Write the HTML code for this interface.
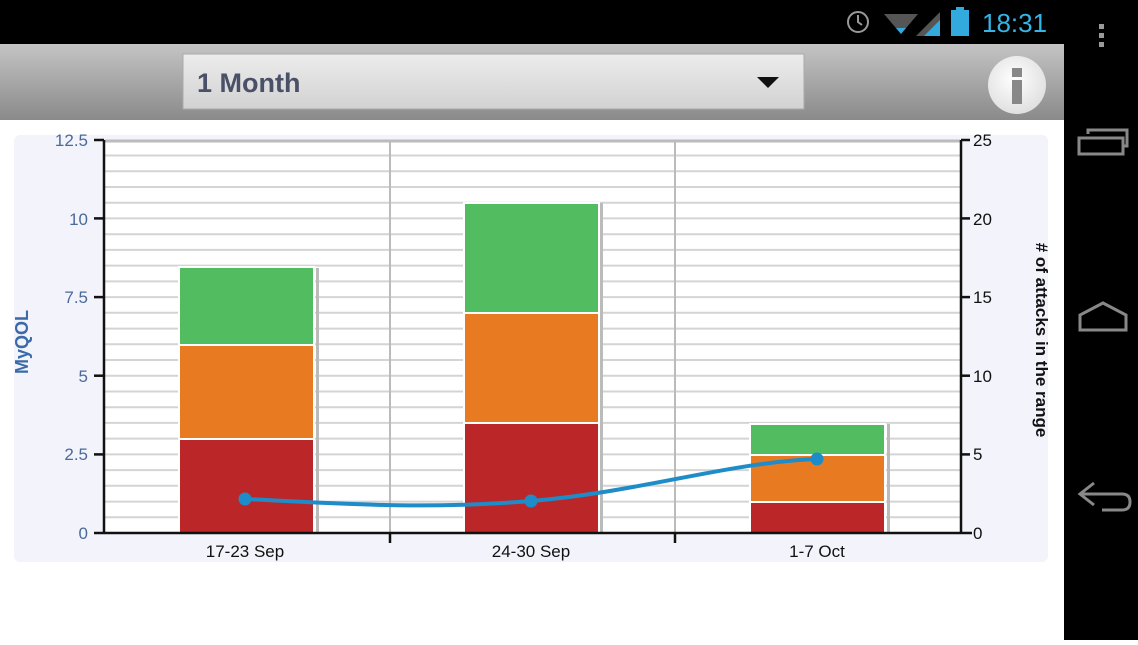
<!DOCTYPE html>
<html><head><style>
body{margin:0;width:1138px;height:640px;overflow:hidden;background:#fff;font-family:"Liberation Sans",sans-serif}
</style></head><body>
<svg width="1138" height="640" xmlns="http://www.w3.org/2000/svg" font-family="Liberation Sans, sans-serif">
<defs>
<linearGradient id="tb" x1="0" y1="0" x2="0" y2="1"><stop offset="0" stop-color="#c4c4c4"/><stop offset="1" stop-color="#8a8a8a"/></linearGradient>
<linearGradient id="dd" x1="0" y1="0" x2="0" y2="1"><stop offset="0" stop-color="#ececec"/><stop offset="1" stop-color="#d2d2d2"/></linearGradient>
<radialGradient id="ib" cx="0.45" cy="0.4" r="0.6"><stop offset="0" stop-color="#ffffff"/><stop offset="1" stop-color="#e0e0e0"/></radialGradient>
</defs>
<rect x="0" y="0" width="1138" height="640" fill="#fff"/>
<!-- status bar -->
<rect x="0" y="0" width="1138" height="44" fill="#000"/>
<circle cx="858" cy="22" r="10" fill="none" stroke="#999" stroke-width="2"/>
<path d="M858 15v7l4 3" stroke="#999" stroke-width="2" fill="none"/>
<path d="M884 14 L918 14 L901 34 Z" fill="#555"/>
<path d="M896 28 L906 28 L901 34 Z" fill="#33aadd"/>
<path d="M916 36 L940 12 L940 36 Z" fill="#555"/>
<path d="M924 36 L940 20 L940 36 Z" fill="#33aadd"/>
<rect x="951" y="10" width="18" height="26" fill="#33aadd"/><rect x="956" y="7" width="8" height="4" fill="#33aadd"/>
<text x="982" y="32" font-size="26" fill="#33b5e5">18:31</text>
<!-- nav bar -->
<rect x="1064" y="44" width="74" height="596" fill="#000"/>
<rect x="1099" y="24" width="5" height="5" fill="#999"/><rect x="1099" y="33" width="5" height="5" fill="#999"/><rect x="1099" y="42" width="5" height="5" fill="#999"/>
<rect x="1079" y="138" width="44" height="16" fill="none" stroke="#888" stroke-width="3"/>
<path d="M1088 134 V130 H1127 V146 H1123" fill="none" stroke="#888" stroke-width="3"/>
<path d="M1080 330 V315 L1103 303 L1126 315 V330 Z" fill="none" stroke="#888" stroke-width="3"/>
<path d="M1094 483 L1080 494 L1094 505 M1080 494 H1122 Q1130 494 1130 502 Q1130 510 1122 510 H1102" fill="none" stroke="#888" stroke-width="3"/>
<!-- toolbar -->
<rect x="0" y="44" width="1064" height="76" fill="url(#tb)"/>
<rect x="183" y="54" width="621" height="55" fill="url(#dd)" stroke="#aaa"/>
<text x="197" y="92" font-size="27" font-weight="bold" fill="#4a5068">1 Month</text>
<path d="M757 77 L779 77 L768 88 Z" fill="#111"/>
<circle cx="1017" cy="85" r="29" fill="url(#ib)"/>
<rect x="1012" y="68" width="10" height="9" fill="#888"/><rect x="1012" y="80" width="10" height="24" fill="#888"/>
<!-- chart panel -->
<rect x="14" y="135" width="1034" height="427" fill="#f3f3fb" rx="6"/>
<rect x="105" y="140" width="855" height="393" fill="#fff"/>
<g stroke="#d4d4d4" stroke-width="2">
<line x1="105" x2="960" y1="517.3" y2="517.3"/><line x1="105" x2="960" y1="501.6" y2="501.6"/><line x1="105" x2="960" y1="485.8" y2="485.8"/><line x1="105" x2="960" y1="470.1" y2="470.1"/><line x1="105" x2="960" y1="454.4" y2="454.4"/><line x1="105" x2="960" y1="438.6" y2="438.6"/><line x1="105" x2="960" y1="422.9" y2="422.9"/><line x1="105" x2="960" y1="407.2" y2="407.2"/><line x1="105" x2="960" y1="391.5" y2="391.5"/><line x1="105" x2="960" y1="375.7" y2="375.7"/><line x1="105" x2="960" y1="360" y2="360"/><line x1="105" x2="960" y1="344.3" y2="344.3"/><line x1="105" x2="960" y1="328.6" y2="328.6"/><line x1="105" x2="960" y1="312.8" y2="312.8"/><line x1="105" x2="960" y1="297.1" y2="297.1"/><line x1="105" x2="960" y1="281.4" y2="281.4"/><line x1="105" x2="960" y1="265.6" y2="265.6"/><line x1="105" x2="960" y1="249.9" y2="249.9"/><line x1="105" x2="960" y1="234.2" y2="234.2"/><line x1="105" x2="960" y1="218.4" y2="218.4"/><line x1="105" x2="960" y1="202.7" y2="202.7"/><line x1="105" x2="960" y1="187" y2="187"/><line x1="105" x2="960" y1="171.3" y2="171.3"/><line x1="105" x2="960" y1="155.5" y2="155.5"/><line x1="105" x2="960" y1="141" y2="141" stroke="#bbb" stroke-width="3"/>
<line x1="390" x2="390" y1="140" y2="533" stroke="#bbb"/><line x1="675" x2="675" y1="140" y2="533" stroke="#bbb"/>
</g>
<!-- bars -->
<g stroke="#fff" stroke-width="2">
<rect x="316" y="268" width="3" height="265" fill="#bbb" stroke="none"/>
<rect x="600" y="203" width="3" height="330" fill="#bbb" stroke="none"/>
<rect x="887" y="424" width="3" height="109" fill="#bbb" stroke="none"/>
<rect x="179" y="439" width="135" height="94" fill="#bb2728"/>
<rect x="179" y="345" width="135" height="94" fill="#e87b22"/>
<rect x="179" y="267" width="135" height="78" fill="#52bd60"/>
<rect x="464" y="423" width="135" height="110" fill="#bb2728"/>
<rect x="464" y="313" width="135" height="110" fill="#e87b22"/>
<rect x="464" y="203" width="135" height="110" fill="#52bd60"/>
<rect x="750" y="502" width="135" height="31" fill="#bb2728"/>
<rect x="750" y="455" width="135" height="47" fill="#e87b22"/>
<rect x="750" y="424" width="135" height="31" fill="#52bd60"/>
</g>
<!-- line -->
<path d="M245 499 C330 503, 420 510, 531 501 C640 492, 730 462, 817 459" fill="none" stroke="#1e8cc8" stroke-width="4"/>
<circle cx="245" cy="499" r="6.5" fill="#1e8cc8"/><circle cx="531" cy="501" r="6.5" fill="#1e8cc8"/><circle cx="817" cy="459" r="6.5" fill="#1e8cc8"/>
<!-- axes -->
<g stroke="#111" stroke-width="2.5">
<line x1="104" y1="140" x2="104" y2="534"/><line x1="961" y1="140" x2="961" y2="534"/>
<line x1="94" y1="533" x2="972" y2="533"/>
<line x1="94" y1="140" x2="104" y2="140"/><line x1="94" y1="218.4" x2="104" y2="218.4"/><line x1="94" y1="297.1" x2="104" y2="297.1"/><line x1="94" y1="375.7" x2="104" y2="375.7"/><line x1="94" y1="454.4" x2="104" y2="454.4"/>
<line x1="961" y1="140" x2="970" y2="140"/><line x1="961" y1="218.4" x2="970" y2="218.4"/><line x1="961" y1="297.1" x2="970" y2="297.1"/><line x1="961" y1="375.7" x2="970" y2="375.7"/><line x1="961" y1="454.4" x2="970" y2="454.4"/>
<line x1="390" y1="533" x2="390" y2="543"/><line x1="675" y1="533" x2="675" y2="543"/>
</g>
<g font-size="17" fill="#4a6a99" text-anchor="end">
<text x="88" y="146">12.5</text><text x="88" y="225">10</text><text x="88" y="303">7.5</text><text x="88" y="382">5</text><text x="88" y="460">2.5</text><text x="88" y="539">0</text>
</g>
<g font-size="17" fill="#111">
<text x="973" y="146">25</text><text x="973" y="225">20</text><text x="973" y="303">15</text><text x="973" y="382">10</text><text x="973" y="460">5</text><text x="973" y="539">0</text>
</g>
<g font-size="17" fill="#111" text-anchor="middle">
<text x="245" y="557">17-23 Sep</text><text x="531" y="557">24-30 Sep</text><text x="817" y="557">1-7 Oct</text>
</g>
<text transform="translate(28,342) rotate(-90)" font-size="18" font-weight="bold" fill="#3a6aa8" text-anchor="middle">MyQOL</text>
<text transform="translate(1036,340) rotate(90)" font-size="17" font-weight="bold" fill="#111" text-anchor="middle"># of attacks in the range</text>
</svg>
</body></html>
